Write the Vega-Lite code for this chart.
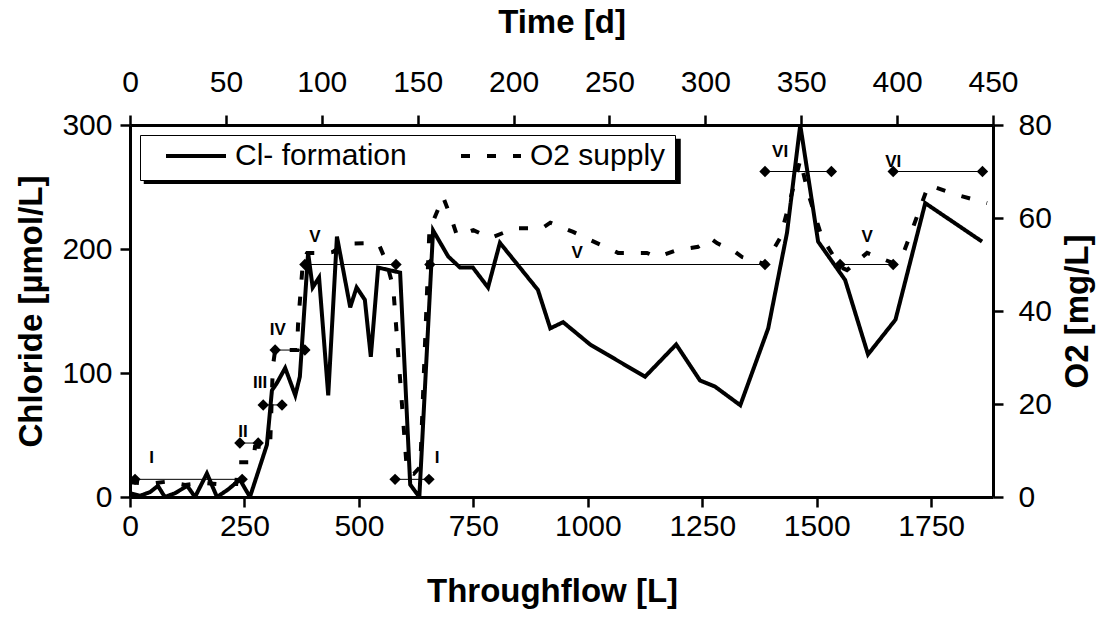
{
  "$schema": "https://vega.github.io/schema/vega-lite/v6.json",
  "width": 863,
  "height": 372,
  "autosize": {"type": "none"},
  "padding": {"left": 130, "top": 125, "right": 104, "bottom": 129},
  "background": "white",
  "config": {
    "view": {"stroke": null},
    "font": "Liberation Sans",
    "axis": {
      "grid": false,
      "domainColor": "black",
      "domainWidth": 3,
      "tickColor": "black",
      "tickWidth": 2.5,
      "tickSize": 10,
      "labelFont": "Liberation Sans",
      "labelFontSize": 30,
      "labelColor": "black",
      "labelFlush": false,
      "labelOverlap": false,
      "format": "d",
      "titleFont": "Liberation Sans",
      "titleFontSize": 33,
      "titleFontWeight": "bold",
      "titleColor": "black",
      "titleAlign": "center",
      "titleBaseline": "middle"
    }
  },
  "datasets": {
    "cl": [
      {"L": 0, "C": 3}, {"L": 22, "C": 1}, {"L": 44, "C": 4}, {"L": 61, "C": 9}, {"L": 76, "C": 0},
      {"L": 98, "C": 3}, {"L": 125, "C": 9}, {"L": 142, "C": 0}, {"L": 168, "C": 19}, {"L": 190, "C": 0},
      {"L": 214, "C": 6}, {"L": 240, "C": 14}, {"L": 262, "C": 0}, {"L": 299, "C": 42}, {"L": 310, "C": 86},
      {"L": 321, "C": 92}, {"L": 339, "C": 104}, {"L": 361, "C": 82}, {"L": 371, "C": 97}, {"L": 375, "C": 119},
      {"L": 389, "C": 197}, {"L": 399, "C": 169}, {"L": 413, "C": 177}, {"L": 433, "C": 82}, {"L": 452, "C": 210},
      {"L": 481, "C": 153}, {"L": 495, "C": 169}, {"L": 513, "C": 159}, {"L": 526, "C": 113}, {"L": 542, "C": 185},
      {"L": 590, "C": 181}, {"L": 612, "C": 10}, {"L": 632, "C": 0}, {"L": 662, "C": 215}, {"L": 695, "C": 194},
      {"L": 721, "C": 185}, {"L": 749, "C": 185}, {"L": 782, "C": 169}, {"L": 808, "C": 205}, {"L": 891, "C": 167},
      {"L": 918, "C": 136}, {"L": 946, "C": 141}, {"L": 1005, "C": 123}, {"L": 1125, "C": 97}, {"L": 1193, "C": 123},
      {"L": 1245, "C": 94}, {"L": 1278, "C": 89}, {"L": 1333, "C": 74}, {"L": 1394, "C": 136}, {"L": 1435, "C": 213},
      {"L": 1464, "C": 300}, {"L": 1503, "C": 206}, {"L": 1562, "C": 175}, {"L": 1612, "C": 115}, {"L": 1672, "C": 143},
      {"L": 1737, "C": 237}, {"L": 1861, "C": 206}
    ],
    "o2": [
      {"L": 0, "O": 3.2}, {"L": 40, "O": 2.8}, {"L": 80, "O": 3.3}, {"L": 120, "O": 2.6}, {"L": 160, "O": 3.0},
      {"L": 200, "O": 2.7}, {"L": 232, "O": 2.8}, {"L": 236, "O": 7.5}, {"L": 269, "O": 7.5}, {"L": 273, "O": 10.8},
      {"L": 306, "O": 10.8}, {"L": 312, "O": 28}, {"L": 317, "O": 31.6}, {"L": 365, "O": 31.6}, {"L": 367, "O": 37},
      {"L": 378, "O": 51}, {"L": 387, "O": 52.5}, {"L": 430, "O": 52.5}, {"L": 443, "O": 52.7}, {"L": 470, "O": 54.5},
      {"L": 520, "O": 54.6}, {"L": 545, "O": 54}, {"L": 561, "O": 50.3}, {"L": 575, "O": 45}, {"L": 605, "O": 5.5},
      {"L": 620, "O": 5}, {"L": 634, "O": 6.5}, {"L": 654, "O": 57.4}, {"L": 684, "O": 64.5}, {"L": 703, "O": 59.6},
      {"L": 714, "O": 56.3}, {"L": 750, "O": 57.4}, {"L": 787, "O": 55.7}, {"L": 841, "O": 57.8}, {"L": 900, "O": 57.8},
      {"L": 918, "O": 59}, {"L": 968, "O": 57}, {"L": 1020, "O": 54.6}, {"L": 1066, "O": 52.5}, {"L": 1129, "O": 52.5},
      {"L": 1151, "O": 51.6}, {"L": 1195, "O": 53.1}, {"L": 1241, "O": 53.8}, {"L": 1267, "O": 55.7}, {"L": 1282, "O": 54.6},
      {"L": 1322, "O": 52.7}, {"L": 1337, "O": 51.6}, {"L": 1387, "O": 50.1}, {"L": 1420, "O": 55.7}, {"L": 1442, "O": 63.9},
      {"L": 1457, "O": 69.7}, {"L": 1464, "O": 72.5}, {"L": 1481, "O": 65.4}, {"L": 1511, "O": 55.9}, {"L": 1551, "O": 49.5},
      {"L": 1566, "O": 48.8}, {"L": 1610, "O": 52.5}, {"L": 1623, "O": 52}, {"L": 1667, "O": 50.3}, {"L": 1686, "O": 51.6},
      {"L": 1704, "O": 56.3}, {"L": 1726, "O": 62.2}, {"L": 1744, "O": 67.1}, {"L": 1809, "O": 64.9}, {"L": 1872, "O": 63.2}
    ],
    "phases": [
      {"phase": "I", "L1": 11, "L2": 245, "O": 3.8},
      {"phase": "II", "L1": 240, "L2": 280, "O": 11.6},
      {"phase": "III", "L1": 291, "L2": 332, "O": 19.8},
      {"phase": "IV", "L1": 317, "L2": 382, "O": 31.6},
      {"phase": "V", "L1": 382, "L2": 581, "O": 50},
      {"phase": "I", "L1": 579, "L2": 653, "O": 3.8},
      {"phase": "V", "L1": 655, "L2": 1387, "O": 50},
      {"phase": "VI", "L1": 1387, "L2": 1532, "O": 70},
      {"phase": "V", "L1": 1551, "L2": 1667, "O": 50},
      {"phase": "VI", "L1": 1667, "L2": 1862, "O": 70}
    ],
    "labels": [
      {"text": "I", "L": 47, "O": 8.4},
      {"text": "II", "L": 247, "O": 14},
      {"text": "III", "L": 284, "O": 24.5},
      {"text": "IV", "L": 323, "O": 36},
      {"text": "V", "L": 404, "O": 56},
      {"text": "I", "L": 671, "O": 8.4},
      {"text": "V", "L": 977, "O": 52.5},
      {"text": "VI", "L": 1420, "O": 74.2},
      {"text": "V", "L": 1610, "O": 56},
      {"text": "VI", "L": 1667, "O": 72}
    ],
    "shadow": [{"x1": 30, "x2": 1203, "y1": 252.5, "y2": 289}],
    "time": [{"t": 0}, {"t": 450}]
  },
  "resolve": {"scale": {"x": "independent", "y": "independent"}, "axis": {"x": "independent", "y": "independent"}},
  "layer": [
    {
      "data": {"name": "shadow"},
      "mark": {"type": "rect", "color": "black", "opacity": 1},
      "encoding": {
        "x": {"field": "x1", "type": "quantitative", "scale": {"domain": [0, 1885], "nice": false, "zero": false}, "axis": null},
        "x2": {"field": "x2"},
        "y": {"field": "y1", "type": "quantitative", "scale": {"domain": [0, 300], "nice": false, "zero": false}, "axis": null},
        "y2": {"field": "y2"}
      }
    },
    {
      "data": {"name": "phases"},
      "mark": {"type": "rule", "color": "black", "strokeWidth": 1},
      "encoding": {
        "x": {"field": "L1", "type": "quantitative", "scale": {"domain": [0, 1885], "nice": false, "zero": false}, "axis": null},
        "x2": {"field": "L2"},
        "y": {"field": "O", "type": "quantitative", "scale": {"domain": [0, 80], "nice": false}, "axis": null}
      }
    },
    {
      "data": {"name": "phases"},
      "transform": [{"fold": ["L1", "L2"], "as": ["end", "Lp"]}],
      "mark": {"type": "point", "shape": "diamond", "filled": true, "color": "black", "size": 130, "opacity": 1},
      "encoding": {
        "x": {"field": "Lp", "type": "quantitative", "scale": {"domain": [0, 1885], "nice": false, "zero": false}, "axis": null},
        "y": {"field": "O", "type": "quantitative", "scale": {"domain": [0, 80], "nice": false}, "axis": null}
      }
    },
    {
      "data": {"name": "labels"},
      "mark": {"type": "text", "font": "Liberation Sans", "fontSize": 17, "fontWeight": "bold", "color": "black"},
      "encoding": {
        "x": {"field": "L", "type": "quantitative", "scale": {"domain": [0, 1885], "nice": false, "zero": false}, "axis": null},
        "y": {"field": "O", "type": "quantitative", "scale": {"domain": [0, 80], "nice": false}, "axis": null},
        "text": {"field": "text"}
      }
    },
    {
      "data": {"name": "o2"},
      "mark": {"type": "line", "color": "black", "strokeWidth": 4, "clip": true},
      "encoding": {
        "x": {"field": "L", "type": "quantitative", "scale": {"domain": [0, 1885], "nice": false, "zero": false}, "axis": null},
        "y": {"field": "O", "type": "quantitative", "scale": {"domain": [0, 80], "nice": false},
              "axis": {"orient": "right", "values": [0, 20, 40, 60, 80], "title": "O2 [mg/L]", "labelPadding": 15,
                       "titleAngle": 270, "titleX": 84, "titleY": 186}},
        "strokeDash": {"datum": "O2 supply", "type": "nominal"}
      }
    },
    {
      "data": {"name": "cl"},
      "mark": {"type": "line", "color": "black", "strokeWidth": 4, "clip": true},
      "encoding": {
        "x": {"field": "L", "type": "quantitative", "scale": {"domain": [0, 1885], "nice": false, "zero": false},
              "axis": {"orient": "bottom", "values": [0, 250, 500, 750, 1000, 1250, 1500, 1750], "title": "Throughflow [L]",
                       "labelPadding": 4, "titleX": 422, "titleY": 94}},
        "y": {"field": "C", "type": "quantitative", "scale": {"domain": [0, 300], "nice": false},
              "axis": {"orient": "left", "values": [0, 100, 200, 300], "title": "Chloride [µmol/L]", "labelPadding": 8,
                       "titleAngle": 270, "titleX": -99, "titleY": 186}},
        "strokeDash": {
          "datum": "Cl- formation", "type": "nominal",
          "scale": {"domain": ["Cl- formation", "O2 supply"], "range": [[1, 0], [9, 17]]},
          "legend": {
            "title": null,
            "orient": "none",
            "legendX": 10,
            "legendY": 10,
            "direction": "horizontal",
            "symbolType": "stroke",
            "symbolSize": 3600,
            "symbolStrokeWidth": 4,
            "symbolStrokeColor": "black",
            "symbolOffset": 15,
            "labelFont": "Liberation Sans",
            "labelFontSize": 30,
            "labelColor": "black",
            "labelLimit": 0,
            "labelOffset": 7,
            "columnPadding": 37,
            "clipHeight": 24,
            "padding": 9,
            "fillColor": "white",
            "strokeColor": "black"
          }
        }
      }
    },
    {
      "data": {"name": "time"},
      "mark": {"type": "point", "opacity": 0},
      "encoding": {
        "x": {"field": "t", "type": "quantitative", "scale": {"domain": [0, 450], "nice": false, "zero": false},
              "axis": {"orient": "top", "values": [0, 50, 100, 150, 200, 250, 300, 350, 400, 450], "title": "Time [d]",
                       "labelPadding": 18, "titleX": 431.5, "titleY": -103}}
      }
    }
  ]
}
